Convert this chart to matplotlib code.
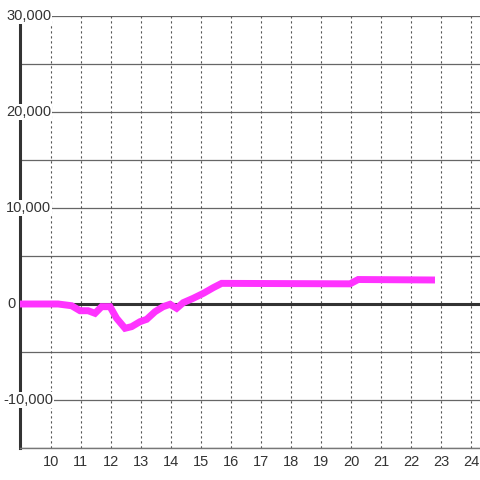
import matplotlib
matplotlib.use("Agg")
import matplotlib.pyplot as plt

plt.rcParams['font.family'] = ['Liberation Sans', 'DejaVu Sans']

# data
hours = [8.97, 10.24, 10.69, 10.97, 11.24, 11.47, 11.69, 11.97, 12.19, 12.47, 12.69,
         12.97, 13.19, 13.47, 13.74, 13.97, 14.19, 14.41, 14.74, 15.08, 15.41,
         15.69, 19.97, 20.24, 22.8]
values = [0, 0, -180, -700, -700, -970, -280, -280, -1490, -2530, -2360,
          -1840, -1600, -800, -280, -30, -450, 140, 590, 1110, 1700,
          2150, 2100, 2550, 2500]
x_ticks = list(range(10, 25))
y_ticks = [-15000, -10000, -5000, 0, 5000, 10000, 15000, 20000, 25000, 30000]
y_label_vals = [-10000, 0, 10000, 20000, 30000]
y_label_txt = ["-10,000", "0", "10,000", "20,000", "30,000"]

fig = plt.figure(figsize=(4.8, 4.8), dpi=100)
ax = fig.add_axes([20/480, 32/480, 460/480, 432/480])
ax.set_xlim(8.97, 24.3)
ax.set_ylim(-15000, 30000)

# grid
for y in y_ticks:
    if y == 0:
        continue
    ax.axhline(y, color='#666666', lw=0.9, zorder=1)
for x in x_ticks:
    ax.axvline(x, color='#555555', lw=0.8, ls=(0, (2, 2.5)), zorder=1)
ax.axhline(0, color='#333333', lw=2.2, zorder=2)

ax.plot(hours, values, color='#ff33ff', lw=5, solid_capstyle='butt',
        solid_joinstyle='miter', zorder=3)

for s in ['top', 'right']:
    ax.spines[s].set_visible(False)
ax.spines['left'].set_color('#333333')
ax.spines['left'].set_linewidth(2.2)
ax.spines['left'].set_zorder(2.5)
ax.spines['bottom'].set_color('#777777')
ax.spines['bottom'].set_linewidth(1)

ax.set_xticks(x_ticks)
ax.set_xticklabels([str(t) for t in x_ticks])
ax.tick_params(axis='x', length=0, pad=5, labelsize=10.5, labelcolor='#333333')
ax.set_yticks([])

tr = ax.get_yaxis_transform()
for y, lab in zip(y_label_vals, y_label_txt):
    if lab == "0":
        xf, ha = (16 - 20) / 460, 'right'
    elif lab.startswith('-'):
        xf, ha = (3 - 20) / 460, 'left'
    else:
        xf, ha = (6 - 20) / 460, 'left'
    ax.text(xf, y, lab, ha=ha, va='center', fontsize=10.5, transform=tr,
            color='#333333', zorder=5, clip_on=False,
            bbox=dict(facecolor='white', edgecolor='none', pad=0.5))

fig.savefig('out.png', dpi=100)
